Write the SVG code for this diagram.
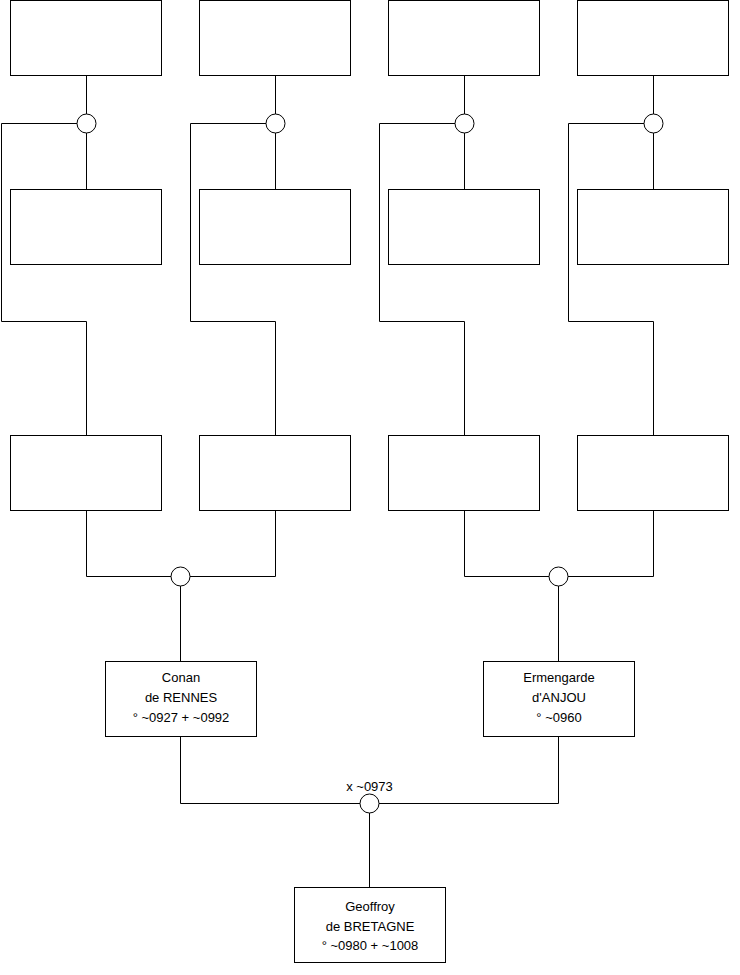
<svg xmlns="http://www.w3.org/2000/svg" width="740" height="975" viewBox="0 0 740 975">
<style>
.box{fill:#fff;stroke:#000;stroke-width:1}
.c{fill:#fff;stroke:#000;stroke-width:1}
.ln{fill:none;stroke:#000;stroke-width:1}
text{font-family:"Liberation Sans",Arial,sans-serif;font-size:13px;fill:#000;text-anchor:middle}
</style>
<rect width="740" height="975" fill="#fff"/>
<g id="connectors">
<path class="ln" d="M86.5 76V114M86.5 133V190M77 123.5H1.5V321.5H86.5V435"/>
<path class="ln" d="M275.5 76V114M275.5 133V190M266 123.5H190.5V321.5H275.5V435"/>
<path class="ln" d="M464.5 76V114M464.5 133V190M455 123.5H379.5V321.5H464.5V435"/>
<path class="ln" d="M653.5 76V114M653.5 133V190M644 123.5H568.5V321.5H653.5V435"/>
<path class="ln" d="M86.5 510V576.5H171M190 576.5H275.5V510M180.5 586V662"/>
<path class="ln" d="M464.5 510V576.5H549M568 576.5H653.5V510M558.5 586V662"/>
<path class="ln" d="M180.5 737V803.5H360M379 803.5H558.5V737M369.5 813V888"/>
</g>
<g id="m1"><circle class="c" cx="86.5" cy="123.5" r="9.5"/></g>
<g id="m2"><circle class="c" cx="275.5" cy="123.5" r="9.5"/></g>
<g id="m3"><circle class="c" cx="464.5" cy="123.5" r="9.5"/></g>
<g id="m4"><circle class="c" cx="653.5" cy="123.5" r="9.5"/></g>
<g id="m5"><circle class="c" cx="180.5" cy="576.5" r="9.5"/></g>
<g id="m6"><circle class="c" cx="558.5" cy="576.5" r="9.5"/></g>
<g id="m7"><circle class="c" cx="369.5" cy="803.5" r="9.5"/><text x="369.5" y="790.5">x ~0973</text></g>
<g id="p1"><rect class="box" x="10.5" y="0.5" width="151" height="75"/></g>
<g id="p2"><rect class="box" x="199.5" y="0.5" width="151" height="75"/></g>
<g id="p3"><rect class="box" x="388.5" y="0.5" width="151" height="75"/></g>
<g id="p4"><rect class="box" x="577.5" y="0.5" width="151" height="75"/></g>
<g id="p5"><rect class="box" x="10.5" y="189.5" width="151" height="75"/></g>
<g id="p6"><rect class="box" x="199.5" y="189.5" width="151" height="75"/></g>
<g id="p7"><rect class="box" x="388.5" y="189.5" width="151" height="75"/></g>
<g id="p8"><rect class="box" x="577.5" y="189.5" width="151" height="75"/></g>
<g id="p9"><rect class="box" x="10.5" y="435.5" width="151" height="75"/></g>
<g id="p10"><rect class="box" x="199.5" y="435.5" width="151" height="75"/></g>
<g id="p11"><rect class="box" x="388.5" y="435.5" width="151" height="75"/></g>
<g id="p12"><rect class="box" x="577.5" y="435.5" width="151" height="75"/></g>
<g id="conan"><rect class="box" x="105.5" y="661.5" width="151" height="75"/>
<text x="181" y="682">Conan</text><text x="181" y="702">de RENNES</text><text x="181" y="722">° ~0927 + ~0992</text></g>
<g id="ermengarde"><rect class="box" x="483.5" y="661.5" width="151" height="75"/>
<text x="559" y="682">Ermengarde</text><text x="559" y="702">d'ANJOU</text><text x="559" y="722">° ~0960</text></g>
<g id="geoffroy"><rect class="box" x="294.5" y="887.5" width="151" height="75"/>
<text x="370" y="910.5">Geoffroy</text><text x="370" y="930.5">de BRETAGNE</text><text x="370" y="950">° ~0980 + ~1008</text></g>
</svg>
